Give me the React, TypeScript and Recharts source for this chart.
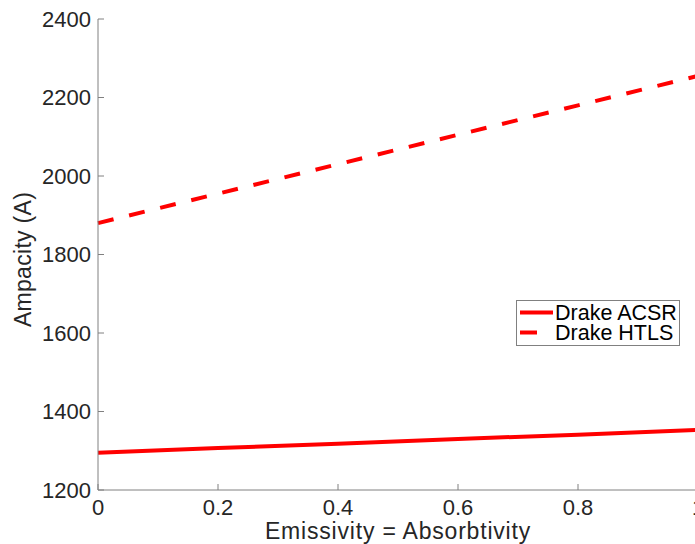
import React from 'react'
import { Legend, Line, LineChart, XAxis, YAxis } from 'recharts'

const emissivity = [0, 0.2, 0.4, 0.6, 0.8, 1]
const acsrAmpacity = [1295, 1307, 1318, 1330, 1341, 1353]
const htlsAmpacity = [1880, 1955, 2030, 2105, 2180, 2255]
const xTicks = [0, 0.2, 0.4, 0.6, 0.8, 1]
const yTicks = [1200, 1400, 1600, 1800, 2000, 2200, 2400]

const data = emissivity.map((e, i) => ({
  e,
  acsr: acsrAmpacity[i],
  htls: htlsAmpacity[i],
}))

const FONT = '"Liberation Sans", Arial, Helvetica, sans-serif'
const TEXT = '#262626'
const AXIS = '#808080'
const RED = '#ff0000'

const dashes: Record<string, string | undefined> = { acsr: undefined, htls: '16 16' }

function BottomTick(props: any) {
  const { x, y, payload } = props
  return (
    <g>
      <line x1={x} y1={y} x2={x} y2={y - 6} stroke={AXIS} />
      <text x={x} y={y + 25} textAnchor="middle" fill={TEXT} fontSize={22} fontFamily={FONT}>
        {String(payload.value)}
      </text>
    </g>
  )
}

function LeftTick(props: any) {
  const { x, y, payload } = props
  return (
    <g>
      <line x1={x} y1={y} x2={x + 6} y2={y} stroke={AXIS} />
      <text x={x - 7} y={y} dy="0.355em" textAnchor="end" fill={TEXT} fontSize={22} fontFamily={FONT}>
        {String(payload.value)}
      </text>
    </g>
  )
}

function TopTick(props: any) {
  const { x, y } = props
  return <line x1={x} y1={y} x2={x} y2={y + 6} stroke={AXIS} />
}

function RightTick(props: any) {
  const { x, y } = props
  return <line x1={x} y1={y} x2={x - 6} y2={y} stroke={AXIS} />
}

function YLabel(props: any) {
  const vb = props.viewBox || {}
  const cx = 23
  const cy = (vb.y ?? 19) + (vb.height ?? 471) / 2 + 5
  return (
    <text
      x={cx}
      y={cy}
      dy="0.355em"
      transform={`rotate(-90 ${cx} ${cy})`}
      textAnchor="middle"
      fill={TEXT}
      fontSize={23}
      fontFamily={FONT}
      letterSpacing={0.3}
    >
      Ampacity (A)
    </text>
  )
}

function LegendBox({ payload }: any) {
  return (
    <svg width={164} height={46} style={{ display: 'block' }}>
      <rect x={0.5} y={0.5} width={163} height={45} fill="#fff" stroke={AXIS} />
      {(payload || []).map((p: any, i: number) => {
        const cy = 12.5 + i * 20
        return (
          <g key={p.value}>
            <line
              x1={4}
              x2={37}
              y1={cy}
              y2={cy}
              stroke={p.color}
              strokeWidth={4}
              strokeDasharray={dashes[p.dataKey] ? '17 40' : undefined}
            />
            <text x={39} y={cy} dy="0.34em" fill="#000" fontSize={21.5} fontFamily={FONT}>
              {p.value}
            </text>
          </g>
        )
      })}
    </svg>
  )
}

export default function App() {
  return (
    <div style={{ position: 'absolute', left: 0, top: 0, width: 695, height: 544, overflow: 'hidden', background: '#fff' }}>
      <LineChart width={720} height={544} data={data} margin={{ top: 19, right: 22, bottom: 0, left: 0 }}>
        <XAxis
          dataKey="e"
          type="number"
          domain={[0, 1]}
          ticks={xTicks}
          height={54}
          tickSize={0}
          tickMargin={0}
          tick={<BottomTick />}
          axisLine={{ stroke: AXIS }}
          tickLine={false}
          interval={0}
          label={{
            value: 'Emissivity = Absorbtivity',
            position: 'insideBottom',
            offset: 5,
            fill: TEXT,
            fontSize: 23,
            fontFamily: FONT,
            letterSpacing: 0.8,
          }}
        />
        <XAxis
          xAxisId="top"
          dataKey="e"
          type="number"
          orientation="top"
          domain={[0, 1]}
          ticks={xTicks}
          height={0}
          tickSize={0}
          tickMargin={0}
          tick={<TopTick />}
          axisLine={{ stroke: AXIS }}
          tickLine={false}
          interval={0}
        />
        <YAxis
          type="number"
          domain={[1200, 2400]}
          ticks={yTicks}
          width={98}
          tickSize={0}
          tickMargin={0}
          tick={<LeftTick />}
          axisLine={{ stroke: AXIS }}
          tickLine={false}
          interval={0}
          label={<YLabel />}
        />
        <YAxis
          yAxisId="right"
          type="number"
          orientation="right"
          domain={[1200, 2400]}
          ticks={yTicks}
          width={0}
          tickSize={0}
          tickMargin={0}
          tick={<RightTick />}
          axisLine={{ stroke: AXIS }}
          tickLine={false}
          interval={0}
        />
        <Legend
          layout="horizontal"
          verticalAlign="middle"
          align="center"
          content={<LegendBox />}
          wrapperStyle={{ position: 'absolute', left: 516, top: 300, width: 164, height: 46 }}
        />
        <Line
          dataKey="acsr"
          name="Drake ACSR"
          stroke={RED}
          strokeWidth={4}
          dot={false}
          activeDot={false}
          isAnimationActive={false}
        />
        <Line
          dataKey="htls"
          name="Drake HTLS"
          stroke={RED}
          strokeWidth={4}
          strokeDasharray="16 16"
          dot={false}
          activeDot={false}
          isAnimationActive={false}
        />
      </LineChart>
    </div>
  )
}
